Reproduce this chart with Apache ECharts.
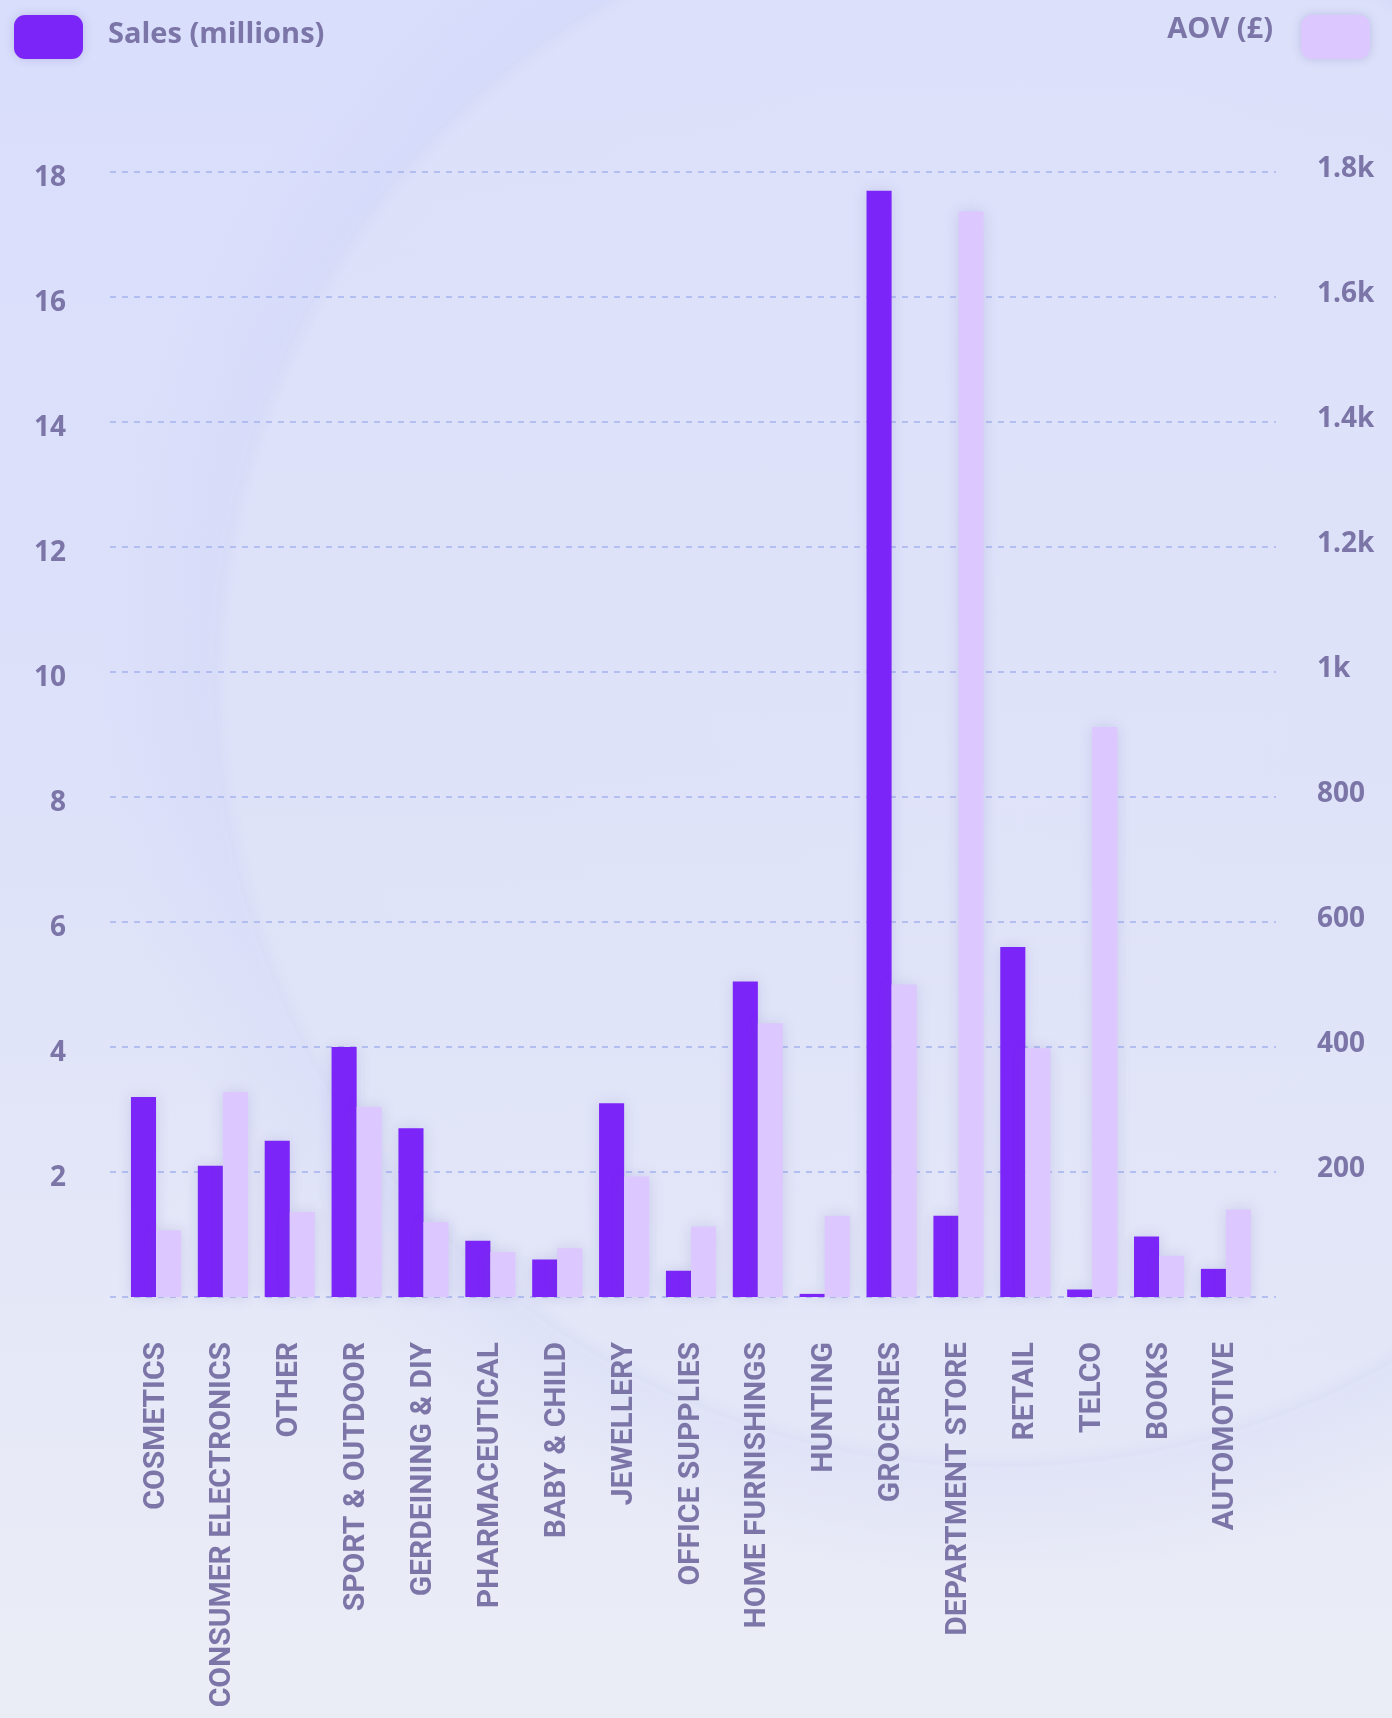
<!DOCTYPE html>
<html>
<head>
<meta charset="utf-8">
<title>Sales and AOV by category</title>
<script src="https://cdn.jsdelivr.net/npm/echarts@6/dist/echarts.min.js"></script>
<style>
  html, body { margin: 0; padding: 0; }
  body {
    width: 1392px; height: 1718px; overflow: hidden;
    background:
      radial-gradient(circle 790px at 1000px 680px,
        rgba(226,229,248,0.40) 0, rgba(224,228,247,0.40) 97.5%,
        rgba(208,213,243,0.35) 99.4%, rgba(208,213,243,0) 100%),
      radial-gradient(circle 900px at 1000px 680px,
        rgba(200,206,246,0) 0, rgba(200,206,246,0) 87%,
        rgba(200,206,246,0.22) 88%, rgba(200,206,246,0) 100%),
      linear-gradient(180deg, #d9defc 0%, #dde1f9 45%, #ebedf6 100%);
  }
  #chart { width: 1392px; height: 1718px; }
</style>
</head>
<body>
<div id="chart"></div>
<script>
// Categories along the x axis
const categories = [
  'COSMETICS', 'CONSUMER ELECTRONICS', 'OTHER', 'SPORT & OUTDOOR',
  'GERDEINING & DIY', 'PHARMACEUTICAL', 'BABY & CHILD', 'JEWELLERY',
  'OFFICE SUPPLIES', 'HOME FURNISHINGS', 'HUNTING', 'GROCERIES',
  'DEPARTMENT STORE', 'RETAIL', 'TELCO', 'BOOKS', 'AUTOMOTIVE'
];

// Sales in millions (left axis)
const salesMillions = [3.2, 2.1, 2.5, 4.0, 2.7, 0.9, 0.6, 3.1, 0.42, 5.05, 0.05, 17.7, 1.3, 5.6, 0.12, 0.97, 0.45];

// Average order value in pounds (right axis)
const aovPounds = [107, 328, 136, 304, 120, 72, 78, 193, 113, 438, 130, 500, 1737, 398, 912, 66, 140];

// Axis ranges
const salesAxis = { min: 0, max: 18, interval: 2 };
const aovAxis = { min: 0, max: 1800, interval: 200 };

const seriesNames = ['Sales (millions)', 'AOV (£)'];

const textColor = '#7b75a8';
const salesColor = '#7c25f8';
const aovColor = '#dcc7fe';
const gridLineColor = '#a5b3ee';

const labelFont = { color: textColor, fontSize: 28, fontWeight: 'bold', fontFamily: 'Open Sans' };
const legendFont = { color: textColor, fontSize: 29, fontWeight: 'bold', fontFamily: 'Open Sans' };

const chart = echarts.init(document.getElementById('chart'), null, { renderer: 'canvas' });

const barShadow = { shadowBlur: 14, shadowColor: 'rgba(90, 90, 170, 0.18)' };

const option = {
  animation: false,
  textStyle: { fontFamily: 'Open Sans' },
  legend: [
    {
      data: [seriesNames[0]],
      left: 9, top: 10,
      itemWidth: 69, itemHeight: 44,
      icon: 'roundRect',
      itemStyle: { shadowBlur: 10, shadowColor: 'rgba(90, 90, 170, 0.25)' },
      formatter: name => '{t|' + name + '}',
      textStyle: Object.assign({}, legendFont, {
        rich: { t: Object.assign({}, legendFont, { padding: [0, 0, 4, 20] }) }
      }),
      selectedMode: false
    },
    {
      data: [seriesNames[1]],
      right: 17, top: 10,
      align: 'right',
      itemWidth: 69, itemHeight: 44,
      icon: 'roundRect',
      itemStyle: { shadowBlur: 10, shadowColor: 'rgba(90, 90, 170, 0.25)' },
      formatter: name => '{t|' + name + '}',
      textStyle: Object.assign({}, legendFont, {
        rich: { t: Object.assign({}, legendFont, { padding: [0, 23, 14, 0] }) }
      }),
      selectedMode: false
    }
  ],
  grid: [
    // wide grid: dashed guide lines and value-axis labels
    { left: 110, right: 116, top: 172, bottom: 421 },
    // inner grid: category bands holding the bars
    { left: 122.6, right: 132.6, top: 172, bottom: 421 }
  ],
  xAxis: [
    { gridIndex: 0, type: 'category', data: categories, show: false },
    {
      gridIndex: 1, type: 'category', data: categories,
      axisLine: { show: false }, axisTick: { show: false },
      axisLabel: {
        rotate: 90, margin: 45, interval: 0,
        color: textColor, fontSize: 30, fontWeight: 'bold', fontFamily: 'Roboto'
      }
    }
  ],
  yAxis: [
    {
      gridIndex: 0, type: 'value', position: 'left',
      min: salesAxis.min, max: salesAxis.max, interval: salesAxis.interval,
      axisLine: { show: false }, axisTick: { show: false },
      splitLine: { show: true, lineStyle: { color: gridLineColor, type: [6, 6], width: 1.5 } },
      axisLabel: Object.assign({}, labelFont, {
        showMinLabel: false, margin: 44,
        formatter: v => '{v|' + v + '}',
        rich: { v: Object.assign({}, labelFont, { padding: [12, 0, 0, 0] }) }
      })
    },
    {
      gridIndex: 0, type: 'value', position: 'right',
      min: aovAxis.min, max: aovAxis.max, interval: aovAxis.interval,
      axisLine: { show: false }, axisTick: { show: false },
      splitLine: { show: false },
      axisLabel: Object.assign({}, labelFont, {
        showMinLabel: false, margin: 41,
        formatter: v => '{v|' + (v >= 1000 ? (v / 1000) + 'k' : String(v)) + '}',
        rich: { v: Object.assign({}, labelFont, { padding: [0, 0, 6, 0] }) }
      })
    },
    { gridIndex: 1, type: 'value', min: salesAxis.min, max: salesAxis.max, interval: salesAxis.interval, show: false, splitLine: { show: false } },
    { gridIndex: 1, type: 'value', min: aovAxis.min, max: aovAxis.max, interval: aovAxis.interval, show: false, splitLine: { show: false } }
  ],
  series: [
    {
      name: seriesNames[0], type: 'bar',
      xAxisIndex: 1, yAxisIndex: 2,
      data: salesMillions,
      barGap: '0%', barCategoryGap: '25%',
      itemStyle: Object.assign({ color: salesColor }, barShadow)
    },
    {
      name: seriesNames[1], type: 'bar',
      xAxisIndex: 1, yAxisIndex: 3,
      data: aovPounds,
      barGap: '0%', barCategoryGap: '25%',
      itemStyle: Object.assign({ color: aovColor }, barShadow)
    }
  ]
};

chart.setOption(option);
</script>
</body>
</html>
